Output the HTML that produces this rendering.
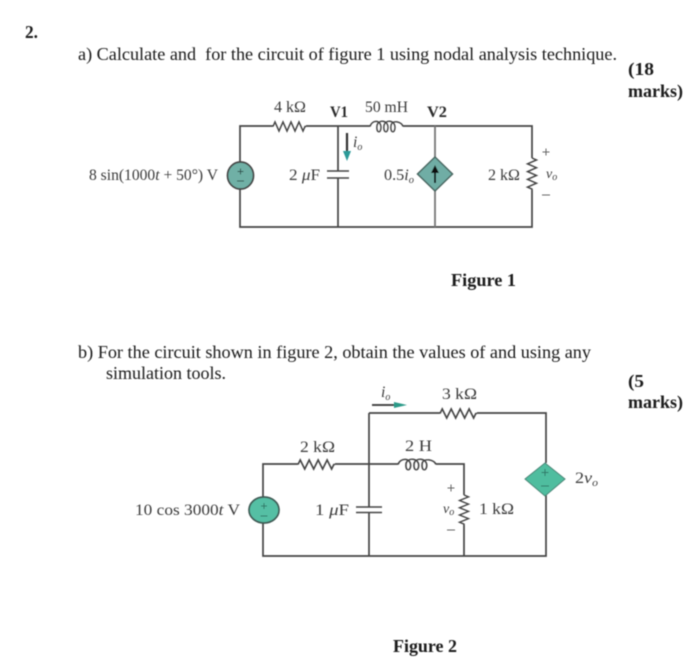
<!DOCTYPE html>
<html><head><meta charset="utf-8"><style>
html,body{margin:0;padding:0;background:#fff;width:700px;height:671px;overflow:hidden}
svg{display:block}
text{font-family:"Liberation Serif",serif}
.t{font-size:17.8px;fill:#1a1a1a}
.b{font-size:18px;font-weight:bold;fill:#1c1c1c}
.l{font-size:15.5px;fill:#3a3a3a}
.lb{font-size:15.5px;font-weight:bold;fill:#2a2a2a}
.i{font-style:italic}
.s{font-size:10px}
.w{fill:none;stroke:#444;stroke-width:1.7}
.m{fill:none;stroke:#444;stroke-width:1.6}
</style></head><body>
<svg width="700" height="671" viewBox="0 0 700 671" xmlns="http://www.w3.org/2000/svg">
<defs>
<filter id="bl"><feGaussianBlur stdDeviation="0.4"/></filter>
<path id="res" d="M0 0l2-4.500l4 9l4-9l4 9l4-9l4 9l4-9l4 9l2-4.500l1 0" fill="none" stroke="#444" stroke-width="1.500"/>
<path id="coil" d="M0 0C2-7 11-7 11 1C11 7 6 7 7-1C8-7 18-7 18 1C18 7 13 7 14-1C15-7 25-7 25 1C25 7 20 7 21-1C22-7 32-5 33 0" fill="none" stroke="#444" stroke-width="1.400"/>
</defs>

<g filter="url(#bl)">
<text x="25" y="38" class="b" textLength="13" lengthAdjust="spacingAndGlyphs">2.</text>
<text x="78" y="60" class="t" textLength="539" lengthAdjust="spacingAndGlyphs" xml:space="preserve">a) Calculate and  for the circuit of figure 1 using nodal analysis technique.</text>
<text x="628" y="75" class="b" textLength="26" lengthAdjust="spacingAndGlyphs">(18</text>
<text x="628" y="97" class="b" textLength="55" lengthAdjust="spacingAndGlyphs">marks)</text>
<text x="78" y="358" class="t" textLength="513" lengthAdjust="spacingAndGlyphs">b) For the circuit shown in figure 2, obtain the values of and using any</text>
<text x="106" y="379" class="t" textLength="120" lengthAdjust="spacingAndGlyphs">simulation tools.</text>
<text x="628" y="387" class="b" textLength="16" lengthAdjust="spacingAndGlyphs">(5</text>
<text x="628" y="408" class="b" textLength="55" lengthAdjust="spacingAndGlyphs">marks)</text>
<text x="451" y="286" class="b" textLength="65" lengthAdjust="spacingAndGlyphs">Figure 1</text>
<text x="393" y="652" class="b" textLength="64" lengthAdjust="spacingAndGlyphs">Figure 2</text>

<!-- Figure 1 -->
<path class="w" d="M273 126H240V227H532V190M306 126H370M403 126H532V158M338 126V171M338 178V227"/>
<path d="M435 126V227" fill="none" stroke="#777" stroke-width="1.800"/>
<use href="#res" x="273" y="126.500"/>
<use href="#coil" x="370" y="126.500"/>
<use href="#res" transform="translate(532 158) rotate(90) scale(.97 1)"/>
<path class="m" d="M327 171H349M327 178H349"/>
<path d="M347 133V152" stroke="#333" stroke-width="2.200" fill="none"/>
<path d="M343 151H351L347 161Z" fill="#2b9a98"/>
<ellipse cx="240.500" cy="175.500" rx="13" ry="13.500" fill="#6fb0a6" stroke="#444" stroke-width="1.700"/>
<path d="M240.500 168.500v6M237.500 171.500h6M237 181h7" stroke="#2c4c48" stroke-width="1" fill="none"/>
<path d="M435 157L452.500 174L435 191L417.500 174Z" fill="#6fada5" stroke="#4a6661" stroke-width="1.500"/>
<path d="M435 183V171" stroke="#111" stroke-width="2"/>
<path d="M431 173L435 165L439 173Z" fill="#111"/>

<text x="274" y="112" class="l" textLength="32" lengthAdjust="spacingAndGlyphs">4 kΩ</text>
<text x="330" y="117" class="lb" textLength="18" lengthAdjust="spacingAndGlyphs">V1</text>
<text x="365" y="112" class="l" textLength="43" lengthAdjust="spacingAndGlyphs">50 mH</text>
<text x="427" y="117" class="lb" textLength="20" lengthAdjust="spacingAndGlyphs">V2</text>
<text x="89" y="180" class="l" textLength="129" lengthAdjust="spacingAndGlyphs">8 sin(1000<tspan class="i">t</tspan> + 50°) V</text>
<text x="289" y="180" class="l" textLength="31" lengthAdjust="spacingAndGlyphs">2 <tspan class="i">μ</tspan>F</text>
<text x="353" y="147" class="l i">i<tspan class="s" dy="3">o</tspan></text>
<text x="384" y="180" class="l" textLength="30" lengthAdjust="spacingAndGlyphs">0.5<tspan class="i">i</tspan><tspan class="i s" dy="3">o</tspan></text>
<text x="488" y="180" class="l" textLength="32" lengthAdjust="spacingAndGlyphs">2 kΩ</text>
<path d="M542.500 152H549.500M546 148.500V155.500M542 195H550" stroke="#666" stroke-width="1" fill="none"/>
<text x="546" y="178" class="l i" style="font-size:14px">v<tspan class="s" dy="2">o</tspan></text>

<!-- Figure 2 -->
<path class="w" d="M298 464H263V556H546V495M335 464H398M436 464H464V495M464 525V556M369 413V507M369 512V556M369 413H440M477 413H546V463"/>
<use href="#res" transform="translate(298 464.500) scale(1.120 1)"/>
<use href="#res" transform="translate(440 413.500) scale(1.120 1)"/>
<use href="#coil" transform="translate(398 464.500) scale(1.150 1)"/>
<use href="#res" transform="translate(464 495) rotate(90) scale(.91 1)"/>
<path class="m" d="M356 507H382M356 512.500H382"/>
<path d="M372 405H396" stroke="#333" stroke-width="1.800" fill="none"/>
<path d="M394 402L407 405L394 408Z" fill="#2b9a88"/>
<ellipse cx="264" cy="510" rx="15" ry="13" fill="#55bfa4" stroke="#3f5a54" stroke-width="1.700"/>
<path d="M264 503v6M261 506h6M260.500 516h7" stroke="#2f7565" stroke-width="1" fill="none"/>
<path d="M545 463L565 479L545 496L525 479Z" fill="#4fbd9f" stroke="#4a8476" stroke-width="1"/>
<path d="M545 469v7M541.500 472.500h7M541 486h8" stroke="#2f7565" stroke-width="1" fill="none"/>

<text x="381" y="397" class="l i">i<tspan class="s" dy="3">o</tspan></text>
<text x="442" y="399" class="l" textLength="35" lengthAdjust="spacingAndGlyphs">3 kΩ</text>
<text x="300" y="452" class="l" textLength="35" lengthAdjust="spacingAndGlyphs">2 kΩ</text>
<text x="405" y="451" class="l" textLength="27" lengthAdjust="spacingAndGlyphs">2 H</text>
<text x="135" y="515" class="l" textLength="105" lengthAdjust="spacingAndGlyphs">10 cos 3000<tspan class="i">t</tspan> V</text>
<text x="315" y="515" class="l" textLength="34" lengthAdjust="spacingAndGlyphs">1 <tspan class="i">μ</tspan>F</text>
<text x="575" y="483" class="l" textLength="23" lengthAdjust="spacingAndGlyphs">2<tspan class="i">v</tspan><tspan class="i s" dy="3">o</tspan></text>
<path d="M447.500 488H454.500M451 484.500V491.500M447 530H455" stroke="#666" stroke-width="1" fill="none"/>
<text x="443" y="513" class="l i" style="font-size:14px">v<tspan class="s" dy="2">o</tspan></text>
<text x="479" y="514" class="l" textLength="35" lengthAdjust="spacingAndGlyphs">1 kΩ</text>
</g>
</svg>
</body></html>
